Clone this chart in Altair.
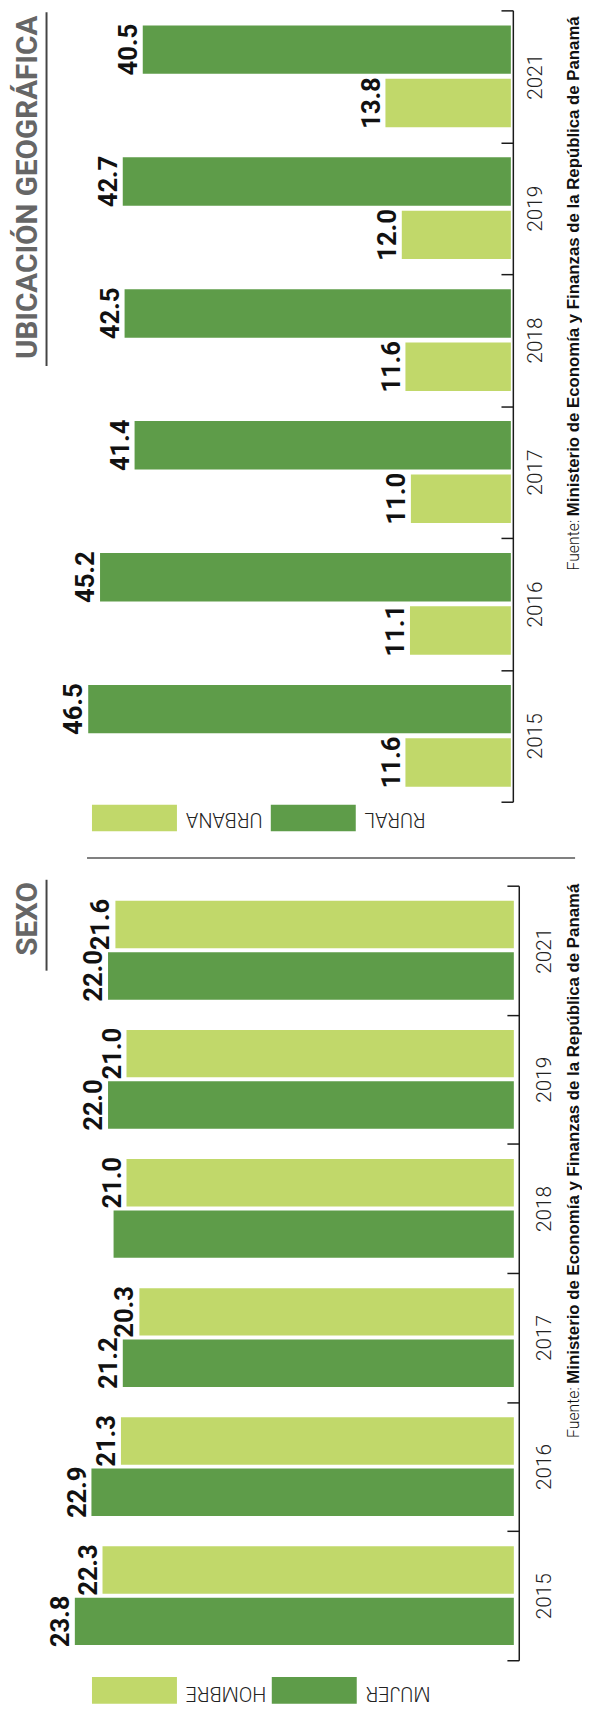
import altair as alt
import pandas as pd

# ---------------- data ----------------
years = ["2015", "2016", "2017", "2018", "2019", "2021"]
years_desc = years[::-1]

geo_series = ["RURAL", "URBANA"]          # order inside each year band (top -> bottom)
geo_legend = ["URBANA", "RURAL"]          # legend order (left -> right)
urbana = [11.6, 11.1, 11.0, 11.6, 12.0, 13.8]
rural = [46.5, 45.2, 41.4, 42.5, 42.7, 40.5]

sexo_series = ["HOMBRE", "MUJER"]
sexo_legend = ["HOMBRE", "MUJER"]
hombre = [22.3, 21.3, 20.3, 21.0, 21.0, 21.6]
mujer = [23.8, 22.9, 21.2, 21.7, 22.0, 22.0]
hidden_labels = [("MUJER", "2018")]       # bar drawn without value label in the source

title_geo = "UBICACIÓN GEOGRÁFICA"
title_sexo = "SEXO"
fuente_a = "Fuente:"
fuente_b = "Ministerio de Economía y Finanzas de la República de Panamá"

DARK = "#5e9c49"
LIGHT = "#c1d86a"


def make_df(series_map):
    rows = []
    for name, vals in series_map.items():
        for yr, v in zip(years, vals):
            lab = "" if (name, yr) in hidden_labels else f"{v:.1f}"
            rows.append({"year": yr, "serie": name, "value": v, "label": lab})
    return pd.DataFrame(rows)


df_geo = make_df({"RURAL": rural, "URBANA": urbana})
df_sexo = make_df({"HOMBRE": hombre, "MUJER": mujer})

one = pd.DataFrame({"k": [0]})


def panel(df, order, colors, legend_names, width, height, dmax, axis_gap, pad_in, pad_out,
          title, title_y, ul_y0, ul_y1, legend_y0, legend_y1, legend_ty,
          legend_x, fuente_y_a, sep_y=None):
    y_enc = alt.Y(
        "year:N",
        scale=alt.Scale(domain=years_desc, paddingInner=0, paddingOuter=0),
        axis=alt.Axis(
            orient="left", offset=-(width + axis_gap), title=None,
            domain=True, domainColor="#1a1a1a", domainWidth=1.5,
            ticks=True, tickSize=12, tickColor="#1a1a1a", tickWidth=1.5,
            tickBand="extent", grid=False,
            labelAngle=270, labelAlign="center", labelBaseline="top",
            labelPadding=-(12 + axis_gap + 10), labelFont="Roboto",
            labelFontWeight=300, labelFontSize=21, labelColor="#222222",
        ),
    )
    yoff = alt.YOffset("serie:N", sort=order,
                       scale=alt.Scale(domain=order, paddingInner=pad_in, paddingOuter=pad_out))
    x_enc = alt.X("value:Q", scale=alt.Scale(domain=[0, dmax], reverse=True, nice=False),
                  axis=None)
    color = alt.Color("serie:N", scale=alt.Scale(domain=order, range=colors), legend=None)

    bars = alt.Chart(df).mark_bar().encode(x=x_enc, y=y_enc, yOffset=yoff, color=color)
    labels = alt.Chart(df).mark_text(
        angle=270, align="center", baseline="alphabetic", dy=-6,
        font="Roboto", fontWeight="bold", fontSize=26, color="#111111",
    ).encode(x=x_enc, y=y_enc, yOffset=yoff, text="label:N")

    layers = [bars, labels]

    layers.append(alt.Chart(pd.DataFrame({"t": [title]})).mark_text(
        angle=270, align="left", baseline="alphabetic", font="Roboto",
        fontWeight="bold", fontSize=30, color="#666666",
    ).encode(x=alt.value(29), y=alt.value(title_y), text="t:N"))
    layers.append(alt.Chart(one).mark_rule(color="#444444", strokeWidth=2).encode(
        x=alt.value(39), y=alt.value(ul_y0), y2=alt.value(ul_y1)))

    # legend (drawn upside down as in the source)
    name_to_color = dict(zip(order, colors))
    for i, name in enumerate(legend_names):
        x0 = legend_x[i]
        layers.append(alt.Chart(one).mark_rect(color=name_to_color[name]).encode(
            x=alt.value(x0), x2=alt.value(x0 + 86),
            y=alt.value(legend_y0), y2=alt.value(legend_y1)))
        layers.append(alt.Chart(pd.DataFrame({"t": [name]})).mark_text(
            angle=180, align="right", baseline="middle", font="Roboto",
            fontWeight=300, fontSize=20, color="#222222",
        ).encode(x=alt.value(x0 + 95), y=alt.value(legend_ty), text="t:N"))

    layers.append(alt.Chart(pd.DataFrame({"t": [fuente_a]})).mark_text(
        angle=270, align="left", baseline="alphabetic", font="Roboto",
        fontWeight=300, fontSize=16, color="#111111",
    ).encode(x=alt.value(578), y=alt.value(fuente_y_a), text="t:N"))
    layers.append(alt.Chart(pd.DataFrame({"t": [fuente_b]})).mark_text(
        angle=270, align="left", baseline="alphabetic", font="Liberation Sans",
        fontWeight="bold", fontSize=17, color="#111111",
    ).encode(x=alt.value(578), y=alt.value(fuente_y_a - 55), text="t:N"))

    if sep_y is not None:
        layers.append(alt.Chart(one).mark_rule(color="#808080", strokeWidth=2).encode(
            x=alt.value(80), x2=alt.value(574), y=alt.value(sep_y)))

    return alt.layer(*layers).properties(width=width, height=height)


top = panel(df_geo, geo_series, [DARK, LIGHT], geo_legend, width=509, height=801,
            dmax=509 / 9.2, axis_gap=2, pad_in=0.0926, pad_out=0.282,
            title=title_geo, title_y=353, ul_y0=2, ul_y1=360,
            legend_y0=804, legend_y1=831, legend_ty=818, legend_x=[85, 266],
            fuente_y_a=567, sep_y=858)

bottom = panel(df_sexo, sexo_series, [LIGHT, DARK], sexo_legend, width=512, height=784,
               dmax=512 / 18.67, axis_gap=5, pad_in=0.077, pad_out=0.295,
               title=title_sexo, title_y=71, ul_y0=-6, ul_y1=86,
               legend_y0=801, legend_y1=828, legend_ty=817, legend_x=[85, 267],
               fuente_y_a=559)

chart = alt.vconcat(top, bottom, spacing=85, bounds="flush").resolve_scale(
    x="independent", y="independent", yOffset="independent", color="independent"
).properties(
    padding={"left": 0, "top": -9, "right": 0, "bottom": 0}
).configure_view(stroke=None)

chart.save("out.html", embed_options={"renderer": "svg", "actions": False})
